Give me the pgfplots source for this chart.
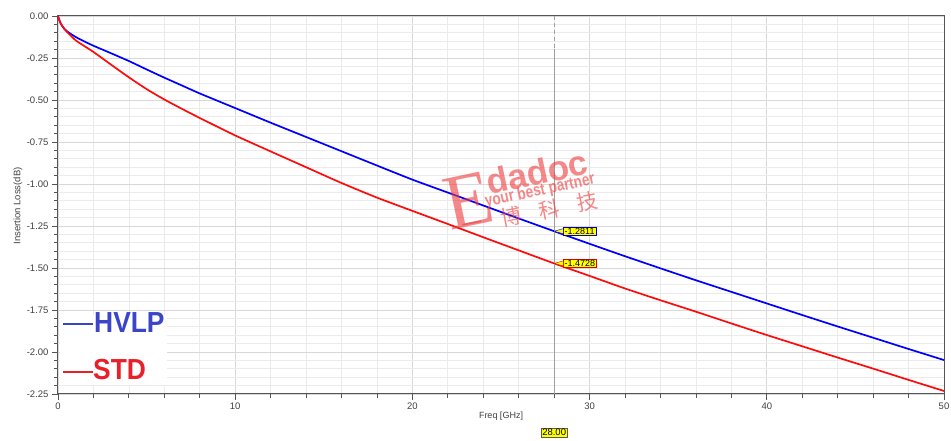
\documentclass[border=0pt]{standalone}
\usepackage{fontspec}
\setmainfont{Liberation Sans}
\newfontfamily\cjk{Noto Sans CJK SC}
\newfontfamily\serifE{Liberation Serif}
\usepackage{pgfplots}
\pgfplotsset{compat=1.18}
\definecolor{gridmaj}{HTML}{D8D8D8}
\definecolor{gridmin}{HTML}{EBEBEB}
\definecolor{axgray}{HTML}{555555}
\definecolor{txtgray}{HTML}{404040}
\definecolor{hvlp}{HTML}{0000FF}
\definecolor{std}{HTML}{FF0A0A}
\definecolor{leghvlp}{HTML}{3B45C9}
\definecolor{legstd}{HTML}{E9202A}
\definecolor{wm}{HTML}{EE3A3A}
\definecolor{tagyellow}{HTML}{FFFF00}
\begin{document}
\begin{tikzpicture}[x=1pt,y=1pt]
\useasboundingbox (0,0) rectangle (951,441);
\begin{axis}[
  at={(58pt,47pt)}, anchor=south west,
  scale only axis, width=886pt, height=378pt,
  xmin=0, xmax=50, ymin=-2.25, ymax=0,
  xtick={0,10,20,30,40,50}, minor x tick num=4,
  ytick={-2.25,-2,-1.75,-1.5,-1.25,-1,-0.75,-0.5,-0.25,0}, minor y tick num=4,
  grid=both,
  major grid style={gridmaj, line width=0.7pt},
  minor grid style={gridmin, line width=0.7pt},
  axis line style={axgray, line width=1pt},
  tick pos=left, tick align=outside,
  major tick length=6pt, minor tick length=4pt,
  tick style={axgray, line width=0.8pt},
  xticklabel style={font=\fontsize{9.5}{11}\selectfont, text=txtgray, yshift=1pt},
  yticklabel style={font=\fontsize{9.5}{11}\selectfont, text=txtgray,
     /pgf/number format/.cd, fixed, fixed zerofill, precision=2},
  /pgf/number format/assume math mode=true,
  clip=false,
]
\addplot[hvlp, line width=1.7pt, smooth, tension=0.4] coordinates {
(0,0) (0.08,-0.025) (0.17,-0.048) (0.36,-0.077) (0.6,-0.098) (1,-0.125) (1.5,-0.152)
(2,-0.177) (3,-0.222) (4,-0.268) (5,-0.318) (6,-0.367) (7,-0.414) (8,-0.461) (10,-0.548)
(12,-0.635) (14,-0.720) (16,-0.805) (18,-0.890) (20,-0.974) (22,-1.051) (24,-1.128)
(26,-1.205) (28,-1.2811) (30,-1.356) (32,-1.430) (34,-1.502) (36,-1.573) (38,-1.642)
(40,-1.711) (42,-1.780) (44,-1.848) (46,-1.915) (48,-1.982) (50,-2.048)
};
\addplot[std, line width=1.7pt, smooth, tension=0.4] coordinates {
(0,0) (0.08,-0.025) (0.17,-0.048) (0.36,-0.077) (0.6,-0.105) (1,-0.145) (1.5,-0.180)
(2,-0.214) (3,-0.290) (4,-0.365) (5,-0.435) (6,-0.497) (7,-0.553) (8,-0.607) (10,-0.711)
(12,-0.806) (14,-0.900) (16,-0.994) (18,-1.081) (20,-1.160) (22,-1.238) (24,-1.317)
(26,-1.395) (28,-1.4728) (30,-1.547) (32,-1.622) (34,-1.692) (36,-1.760) (38,-1.830)
(40,-1.899) (42,-1.966) (44,-2.033) (46,-2.099) (48,-2.166) (50,-2.232)
};
% marker line at 28 GHz
\draw[color=gray!75, dash pattern=on 4pt off 3pt, line width=1pt]
  (axis cs:28,0) -- (axis cs:28,-2.25) -- ++(0,-33pt);
% value tags
\node[draw=blue!80!black, fill=tagyellow, inner xsep=1.5pt, inner ysep=0.8pt, outer sep=0pt, anchor=west,
  font=\fontsize{9}{9}\selectfont] (tb) at ([xshift=9pt]axis cs:28,-1.2811) {-1.2811};
\fill[tagyellow] (axis cs:28,-1.2811) -- ([yshift=2.5pt]tb.west) -- ([yshift=-2.5pt]tb.west) -- cycle;
\draw[blue!80!black, line width=0.4pt] ([yshift=2.5pt]tb.west) -- (axis cs:28,-1.2811) -- ([yshift=-2.5pt]tb.west);
\node[draw=red!85!black, fill=tagyellow, inner xsep=1.5pt, inner ysep=0.8pt, outer sep=0pt, anchor=west,
  font=\fontsize{9}{9}\selectfont] (tr) at ([xshift=9pt]axis cs:28,-1.4728) {-1.4728};
\fill[tagyellow] (axis cs:28,-1.4728) -- ([yshift=2.5pt]tr.west) -- ([yshift=-2.5pt]tr.west) -- cycle;
\draw[red!85!black, line width=0.4pt] ([yshift=2.5pt]tr.west) -- (axis cs:28,-1.4728) -- ([yshift=-2.5pt]tr.west);
\node[draw=gray!70!black, fill=tagyellow, inner xsep=1pt, inner ysep=1pt, anchor=north,
  font=\fontsize{9.5}{10}\selectfont] at ([yshift=-34pt]axis cs:28,-2.25) {28.00};
\end{axis}
% axis titles
\node[font=\fontsize{9.5}{10}\selectfont, text=txtgray, rotate=90] at (18,235) {Insertion Loss(dB)};
\node[font=\fontsize{9}{10}\selectfont, text=txtgray] at (501,25) {Freq [GHz]};
% legend block
\fill[white] (60,56) rectangle (167,126);
\draw[leghvlp, line width=2.9pt] (63,117) -- (93,117);
\node[font=\fontsize{29}{30}\selectfont\bfseries, text=leghvlp, anchor=base west, inner sep=0pt] at (94,108) {\scalebox{0.91}[1]{HVLP}};
\draw[legstd, line width=2.9pt] (63,69) -- (93,69);
\node[font=\fontsize{29}{30}\selectfont\bfseries, text=legstd, anchor=base west, inner sep=0pt] at (93,61) {\scalebox{0.91}[1]{STD}};
% watermark
\node[text=wm, text opacity=0.6, font=\serifE\fontsize{78}{78}\selectfont, inner sep=0pt, rotate=12] at (468,240) {E};
\node[text=wm, text opacity=0.6, font=\fontsize{35}{35}\selectfont\bfseries, inner sep=0pt, rotate=12] at (537,269) {dadoc};
\node[text=wm, text opacity=0.6, font=\fontsize{17}{18}\selectfont\bfseries, inner sep=0pt, rotate=12] at (540,250) {\scalebox{0.8}[1]{your best partner}};
\node[text=wm, text opacity=0.6, font=\cjk\fontsize{21}{22}\selectfont, inner sep=0pt, rotate=11] at (530,228) {一\hspace{18pt}博\hspace{18pt}科\hspace{18pt}技};
\end{tikzpicture}
\end{document}
